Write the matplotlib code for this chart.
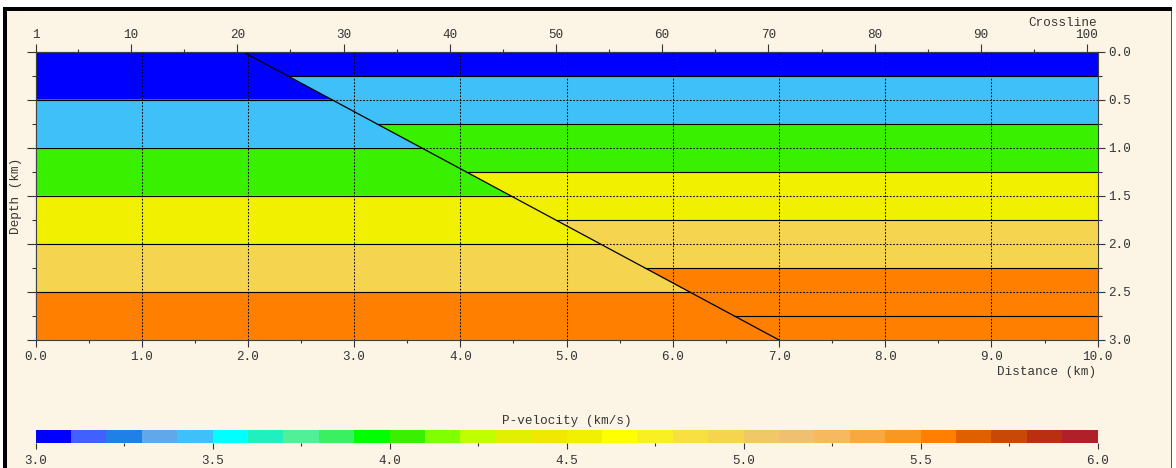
import numpy as np
import matplotlib
matplotlib.use("Agg")
import matplotlib.pyplot as plt
from matplotlib.colors import ListedColormap, BoundaryNorm
from matplotlib.patches import Polygon, Rectangle
from matplotlib.ticker import FixedLocator, StrMethodFormatter
from matplotlib.cm import ScalarMappable

# ---- velocity model: flat layers offset across one dipping fault ----
model_width = 10.0            # km
model_depth = 3.0             # km
fault_x = [1.95, 7.0]         # fault trace, km
fault_z = [0.0, 3.0]          # fault trace depth, km

left_tops = [0.0, 0.5, 1.0, 1.5, 2.0, 2.5]
left_vel = [3.0, 3.4, 4.0, 4.5, 4.9, 5.5]
right_tops = [0.0, 0.25, 0.75, 1.25, 1.75, 2.25, 2.75]
right_vel = [3.0, 3.4, 4.0, 4.5, 4.9, 5.5, 5.5]

# crossline numbering along the top (trace spacing 0.1 km)
crossline_step_km = 0.1
crossline_major = [1, 10, 20, 30, 40, 50, 60, 70, 80, 90, 100]
crossline_minor = [5, 15, 25, 35, 45, 55, 65, 75, 85, 95]

# velocity colour scale (km/s), 0.1 km/s per colour step
vel_bounds = np.round(np.linspace(3.0, 6.0, 31), 1)
vel_colors = [
    "#0000ff", "#4060ff", "#2080e8", "#60a8e8", "#40c0f8",
    "#00ffff", "#20f0c0", "#50f098", "#38f060", "#00ff00",
    "#38f000", "#80ff00", "#c0ff00", "#e0f000", "#f0e800",
    "#f0f000", "#ffff00", "#f8f020", "#f8e040", "#f5d550",
    "#f0c868", "#f0c070", "#f8b860", "#f8a840", "#f89820",
    "#ff8000", "#e06000", "#c84808", "#b83010", "#b02028",
]
vel_ticks = [3.0, 3.5, 4.0, 4.5, 5.0, 5.5, 6.0]
vel_minor = [3.25, 3.75, 4.25, 4.75, 5.25, 5.75]

cmap = ListedColormap(vel_colors)
norm = BoundaryNorm(vel_bounds, cmap.N)

W, H = 1176, 468
BG = "#fcf4e4"
INK = "#353535"
FONT = "Liberation Mono"
FS = 9.1

plt.rcParams["font.family"] = [FONT, "DejaVu Sans Mono"]
plt.rcParams["font.size"] = FS

fig = plt.figure(figsize=(W / 100, H / 100), dpi=100, facecolor="white")


def fx(px):
    return px / W


def fy(py):
    return 1 - py / H


# panel background and sunken frame
fig.patches.append(Rectangle((fx(3), 0), fx(1172) - fx(3), fy(7), transform=fig.transFigure,
                             facecolor=BG, edgecolor="none", zorder=-10))
fig.patches.append(Rectangle((fx(3), 0), fx(4), fy(7), transform=fig.transFigure,
                             facecolor="black", edgecolor="none", zorder=-9))
fig.patches.append(Rectangle((fx(3), fy(11)), fx(1172) - fx(3), fy(7) - fy(11),
                             transform=fig.transFigure, facecolor="black",
                             edgecolor="none", zorder=-9))
fig.patches.append(Rectangle((fx(1170.5), 0), fx(1.5), fy(11), transform=fig.transFigure,
                             facecolor="#555555", edgecolor="none", zorder=-9))

# ---- model section ----
x0, x1, ytop, ybot = 35.5, 1097.7, 51.7, 340.0
ax = fig.add_axes([fx(x0), fy(ybot), fx(x1) - fx(x0), fy(ytop) - fy(ybot)])
ax.set_facecolor("none")
ax.set_xlim(0, model_width)
ax.set_ylim(model_depth, 0)


def fault_at(z):
    return np.interp(z, fault_z, fault_x)


def draw_block(tops, vels, side):
    bottoms = list(tops[1:]) + [model_depth]
    for t, b, v in zip(tops, bottoms, vels):
        b = min(b, model_depth)
        if t >= model_depth:
            continue
        if side == "left":
            pts = [(0, t), (fault_at(t), t), (fault_at(b), b), (0, b)]
        else:
            pts = [(fault_at(t), t), (model_width, t), (model_width, b), (fault_at(b), b)]
        ax.add_patch(Polygon(pts, closed=True, facecolor=cmap(norm(v)),
                             edgecolor="none", zorder=1))
        if t > 0:
            xs = [0, fault_at(t)] if side == "left" else [fault_at(t), model_width]
            ax.plot(xs, [t, t], color="black", lw=0.8, zorder=2)


draw_block(left_tops, left_vel, "left")
draw_block(right_tops, right_vel, "right")
ax.plot(fault_x, fault_z, color="black", lw=0.9, zorder=3)

# dotted grid
for gx in range(1, 10):
    ax.axvline(gx, color="black", lw=0.75, ls=(0, (1.6, 1.6)), zorder=4)
for gz in [0.5, 1.0, 1.5, 2.0, 2.5]:
    ax.axhline(gz, color="black", lw=0.75, ls=(0, (1.6, 1.6)), zorder=4)

for s in ax.spines.values():
    s.set_color("#404040")
    s.set_linewidth(0.8)
    s.set_zorder(5)

ax.set_xticks(np.arange(0, 10.01, 1.0))
ax.xaxis.set_minor_locator(FixedLocator(np.arange(0.5, 10, 1.0)))
ax.xaxis.set_major_formatter(StrMethodFormatter("{x:.1f}"))
ax.set_yticks(np.arange(0, 3.01, 0.5))
ax.yaxis.set_minor_locator(FixedLocator([0.25, 0.75, 1.25, 1.75, 2.25, 2.75]))
ax.yaxis.set_major_formatter(StrMethodFormatter("{x:.1f}"))
ax.tick_params(axis="x", which="major", length=4.8, width=0.8, color=INK,
               labelcolor=INK, pad=3.0, labelsize=FS)
ax.tick_params(axis="x", which="minor", length=2.0, width=0.8, color=INK)
ax.tick_params(axis="y", which="both", left=False, right=True, labelleft=False,
               labelright=True)
ax.tick_params(axis="y", which="major", length=4.8, width=0.8, color=INK,
               labelcolor=INK, pad=3.0, labelsize=FS)
ax.tick_params(axis="y", which="minor", length=3.0, width=0.8, color=INK)

left_ax = ax.secondary_yaxis("left")
left_ax.set_yticks(np.arange(0, 3.01, 0.5))
left_ax.yaxis.set_minor_locator(FixedLocator([0.25, 0.75, 1.25, 1.75, 2.25, 2.75]))
left_ax.tick_params(axis="y", which="major", length=6.2, width=0.8, color=INK,
                    labelleft=False)
left_ax.tick_params(axis="y", which="minor", length=2.6, width=0.8, color=INK)
left_ax.spines["left"].set_color("#404040")
left_ax.spines["left"].set_linewidth(0.8)

top_ax = ax.secondary_xaxis(
    "top",
    functions=(lambda x: x / crossline_step_km + 1, lambda c: (c - 1) * crossline_step_km),
)
top_ax.set_xticks(crossline_major)
top_ax.set_xticklabels([str(c) for c in crossline_major])
top_ax.xaxis.set_minor_locator(FixedLocator(crossline_minor))
top_ax.tick_params(axis="x", which="major", length=6.0, width=0.8, color=INK,
                   labelcolor=INK, pad=2.0, labelsize=FS)
top_ax.tick_params(axis="x", which="minor", length=2.5, width=0.8, color=INK)
top_ax.spines["top"].set_color("#404040")
top_ax.spines["top"].set_linewidth(0.8)

fig.text(fx(1096.7), fy(22.5), "Crossline", ha="right", va="center", color=INK, fontsize=FS)
fig.text(fx(1096.5), fy(372), "Distance (km)", ha="right", va="center", color=INK, fontsize=FS)
fig.text(fx(16.5), fy((ytop + ybot) / 2), "Depth (km)", ha="center", va="center",
         rotation=90, color=INK, fontsize=FS)

# ---- colour bar ----
cax = fig.add_axes([fx(x0), fy(443), fx(x1) - fx(x0), fy(430) - fy(443)])
cb = fig.colorbar(ScalarMappable(norm=norm, cmap=cmap), cax=cax, orientation="horizontal",
                  ticks=vel_ticks, spacing="proportional")
cb.outline.set_visible(False)
cax.xaxis.set_major_formatter(StrMethodFormatter("{x:.1f}"))
cax.xaxis.set_minor_locator(FixedLocator(vel_minor))
cax.tick_params(axis="x", which="major", length=4.3, width=0.8, color=INK,
                labelcolor=INK, pad=4.0, labelsize=FS)
cax.tick_params(axis="x", which="minor", length=2.0, width=0.8, color=INK)
fig.text(fx((x0 + x1) / 2), fy(421), "P-velocity (km/s)", ha="center", va="center",
         color=INK, fontsize=FS)

fig.savefig("out.png", dpi=100, facecolor="white")
